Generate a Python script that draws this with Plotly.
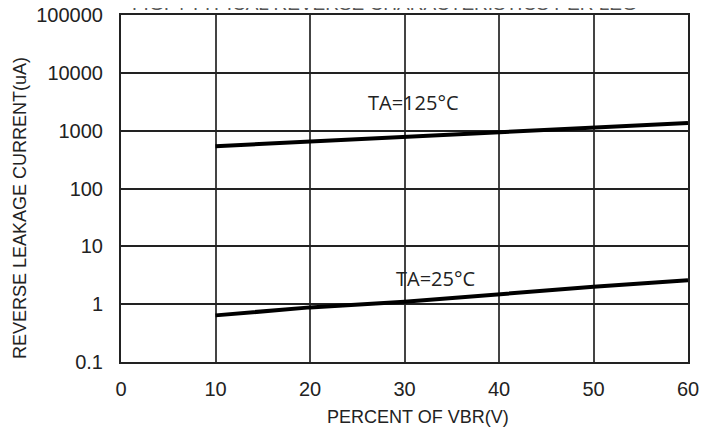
import plotly.graph_objects as go

percent_vbr = [10, 20, 30, 40, 50, 60]
leak_125c = [540, 650, 770, 920, 1110, 1360]
leak_25c = [0.64, 0.88, 1.1, 1.5, 2.0, 2.6]
x_ticks = [0, 10, 20, 30, 40, 50, 60]
y_ticks = [0.1, 1, 10, 100, 1000, 10000, 100000]
y_tick_text = ["0.1", "1", "10", "100", "1000", "10000", "100000"]

fig = go.Figure()
fig.add_trace(go.Scatter(x=percent_vbr, y=leak_125c, mode="lines",
                         line=dict(color="black", width=4), showlegend=False))
fig.add_trace(go.Scatter(x=percent_vbr, y=leak_25c, mode="lines",
                         line=dict(color="black", width=4), showlegend=False))

fig.add_annotation(x=31.0, y=3.49, xref="x", yref="y", text="TA=125°C",
                   xanchor="center", yanchor="middle",
                   showarrow=False, font=dict(family="Open Sans", size=20, color="#222"))
fig.add_annotation(x=33.3, y=0.45, xref="x", yref="y", text="TA=25°C",
                   xanchor="center", yanchor="middle",
                   showarrow=False, font=dict(family="Open Sans", size=20, color="#222"))
fig.add_annotation(x=0.4656, y=1, xref="paper", yref="paper", yshift=12,
                   xanchor="center", yanchor="middle",
                   text="FIG. 4 TYPICAL REVERSE CHARACTERISTICS PER LEG",
                   showarrow=False, font=dict(family="Liberation Sans", size=19, color="#555"))
fig.add_annotation(x=-0.178, y=0.4438, xref="paper", yref="paper", textangle=-90,
                   xanchor="center", yanchor="middle",
                   text="REVERSE LEAKAGE CURRENT(uA)", showarrow=False,
                   font=dict(family="Liberation Sans", size=18, color="#222"))
fig.add_annotation(x=0.5238, y=-0.1585, xref="paper", yref="paper",
                   xanchor="center", yanchor="middle",
                   text="PERCENT OF VBR(V)", showarrow=False,
                   font=dict(family="Liberation Sans", size=18, color="#222"))

fig.update_layout(
    width=717, height=436,
    margin=dict(l=113, r=37, t=7, b=82, autoexpand=False),
    paper_bgcolor="white", plot_bgcolor="white",
    font=dict(family="Liberation Sans", color="#222"),
)
fig.update_xaxes(
    range=[0, 60], tickvals=x_ticks, ticktext=[str(v) for v in x_ticks],
    showgrid=True, gridcolor="#444", gridwidth=1.5,
    showline=True, linecolor="#222", linewidth=2, mirror=True,
    zeroline=False, ticks="", tickfont=dict(size=20),
    ticklabelstandoff=8, automargin=False, ticklabeloverflow="allow",
)
fig.update_yaxes(
    type="log", range=[-1, 5], tickvals=y_ticks, ticktext=y_tick_text,
    showgrid=True, gridcolor="#222", gridwidth=2,
    showline=True, linecolor="#222", linewidth=2, mirror=True,
    zeroline=False, ticks="", tickfont=dict(size=20),
    ticklabelstandoff=12, automargin=False, ticklabeloverflow="allow",
)

fig.write_html("out.html")
